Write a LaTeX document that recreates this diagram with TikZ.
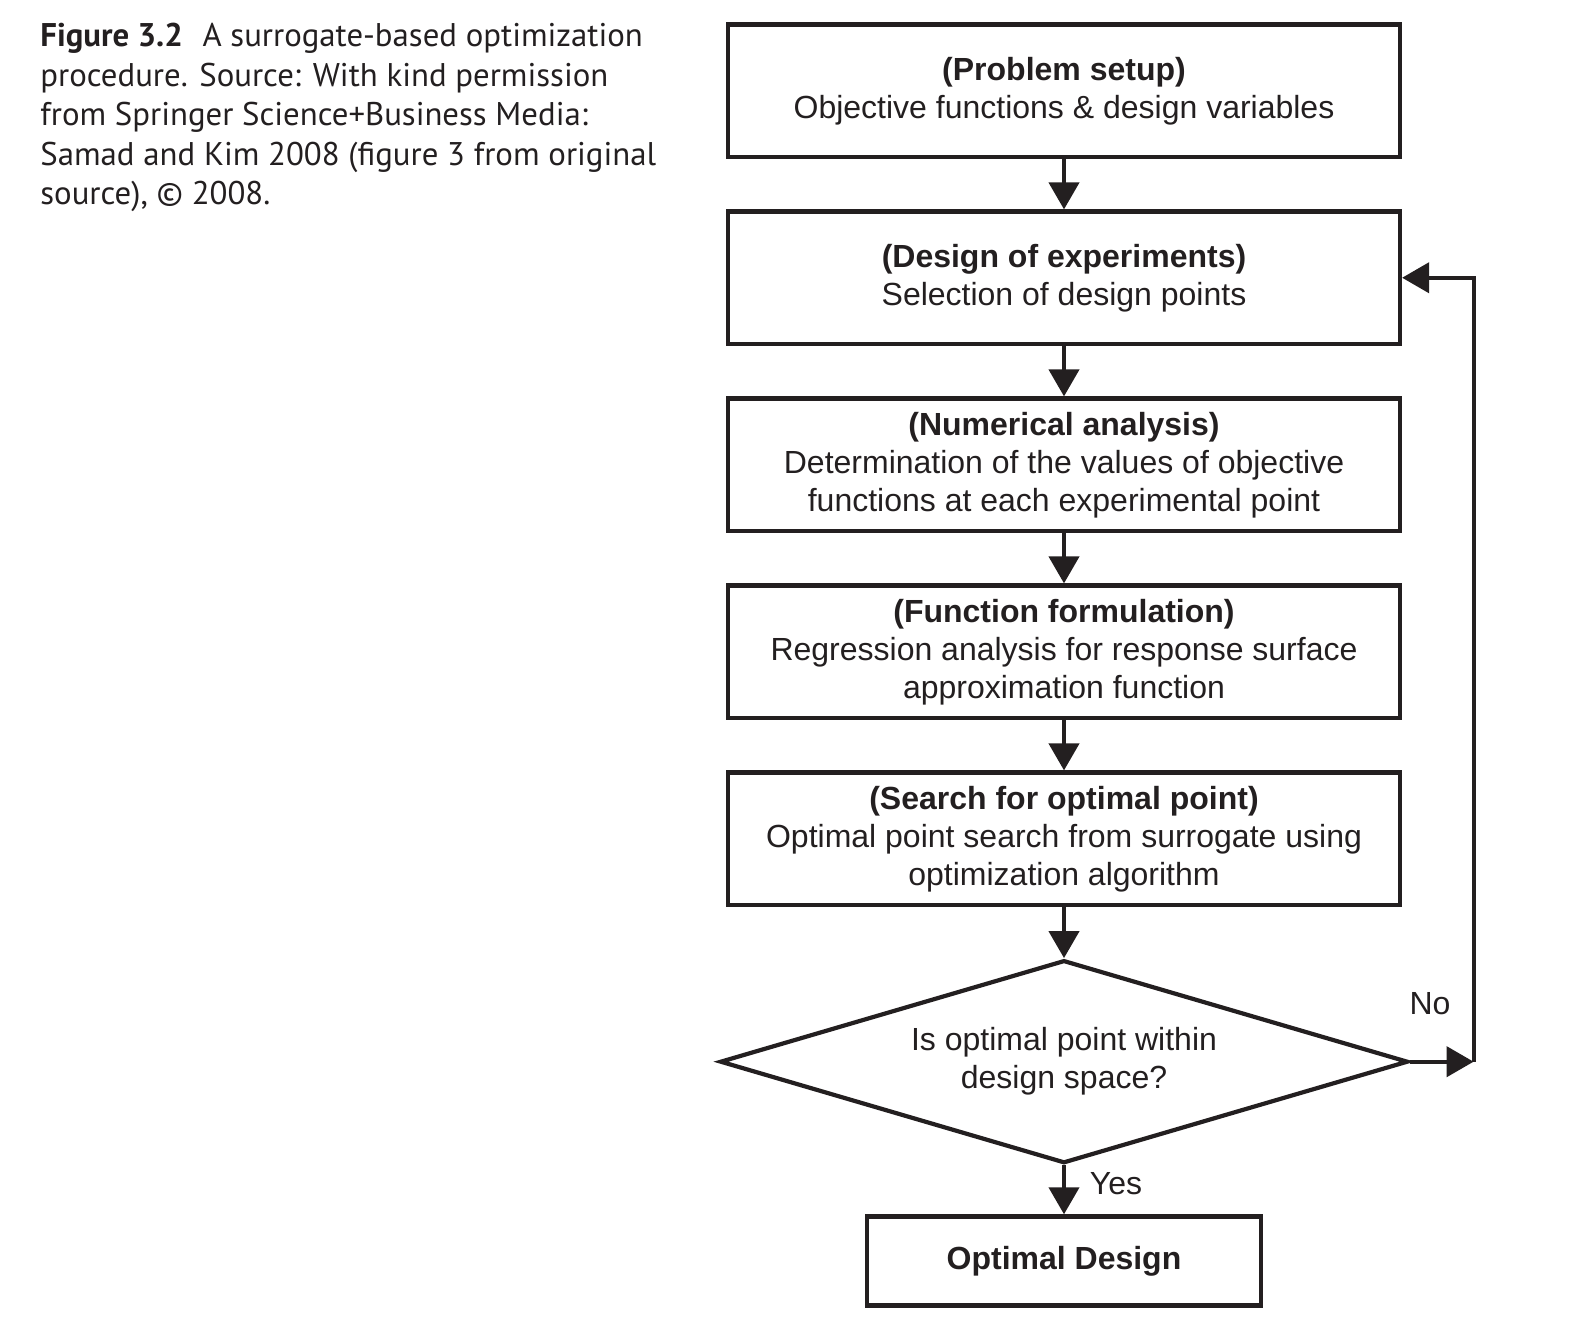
\documentclass[tikz,border=0pt]{standalone}
\usepackage{fontspec}
\setmainfont{Liberation Sans}
\newfontfamily\capfont{PT Sans}
\usetikzlibrary{positioning,shapes.geometric,arrows.meta}
\definecolor{ink}{HTML}{231F20}

\begin{document}
\begin{tikzpicture}[
  x=0.5pt, y=-0.5pt,
  node distance=25.15pt,
  every node/.style={text=ink, font=\fontsize{16}{19}\selectfont},
  box/.style={draw=ink, line width=2.1pt, minimum width=336pt,
    minimum height=66.25pt, align=center, inner sep=0pt},
  decision/.style={draw=ink, diamond, aspect=3.5, line width=2.1pt,
    minimum width=344pt, minimum height=101.5pt, align=center, inner sep=0pt},
  flow/.style={draw=ink, line width=2.1pt, -{Triangle[length=13.5pt,width=15pt]}},
]
  \useasboundingbox (0,0) rectangle (1574,1322);

  % caption
  \node[anchor=north west, inner sep=0pt, align=left,
    font=\capfont\fontsize{16.4}{19.7}\selectfont] (caption) at (40,23)
    {\textbf{Figure 3.2}\hspace{0.6em}A surrogate-based optimization\\
     procedure. Source: With kind permission\\
     from Springer Science+Business Media:\\
     Samad and Kim 2008 (figure 3 from original\\
     source), © 2008.};

  % steps
  \node[box] (setup) at (1064,90.75)
    {\textbf{(Problem setup)}\\Objective functions \& design variables};
  \node[box, below=of setup] (doe)
    {\textbf{(Design of experiments)}\\Selection of design points};
  \node[box, below=of doe] (num)
    {\textbf{(Numerical analysis)}\\Determination of the values of objective\\
     functions at each experimental point};
  \node[box, below=of num] (fit)
    {\textbf{(Function formulation)}\\Regression analysis for response surface\\
     approximation function};
  \node[box, below=of fit] (search)
    {\textbf{(Search for optimal point)}\\Optimal point search from surrogate using\\
     optimization algorithm};
  \node[decision, below=25.5pt of search] (check)
    {Is optimal point within\\design space?};
  \node[box, below=24.5pt of check, minimum width=197pt,
    minimum height=44.5pt] (optimum) {\textbf{Optimal Design}};

  \foreach \a/\b in {setup/doe, doe/num, num/fit, fit/search, search/check, check/optimum}
    \draw[flow] (\a) -- (\b);

  % loop back
  \coordinate[right=31.75pt of check.east] (turn);
  \draw[flow] (check.east) -- (turn);
  \draw[flow] (turn) |- (doe.east);

  \node (no) at (1430,1004) {No};
  \node (yes) at (1116,1184) {Yes};
\end{tikzpicture}
\end{document}
